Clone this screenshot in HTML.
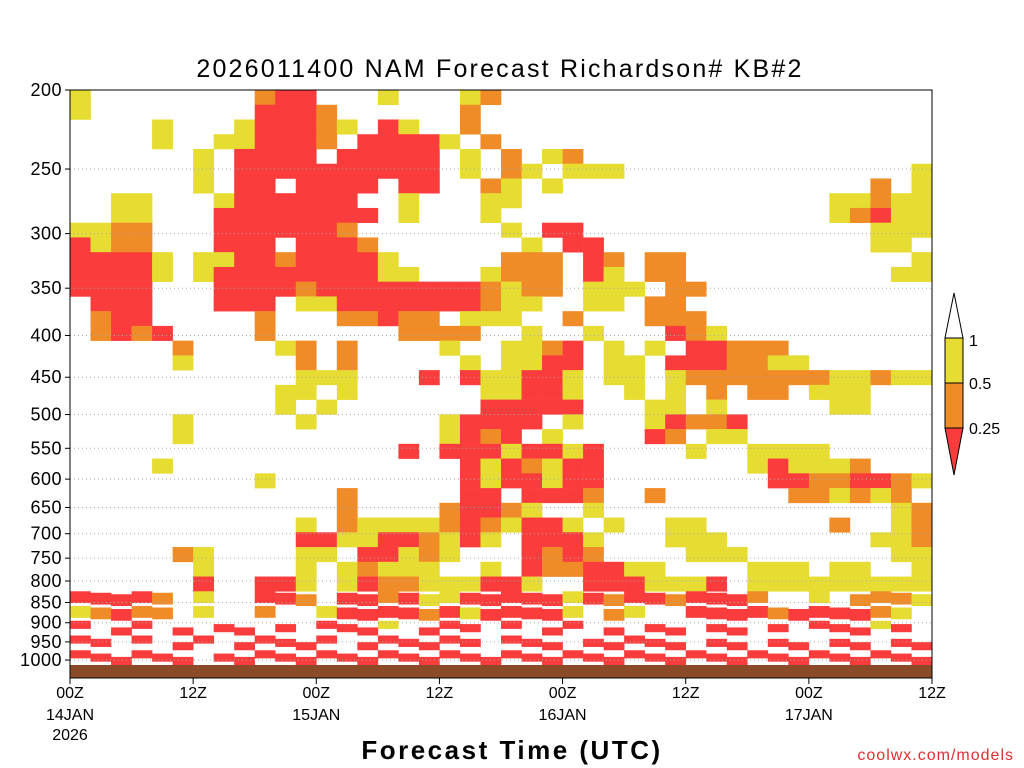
<!DOCTYPE html>
<html><head><meta charset="utf-8"><style>
html,body{margin:0;padding:0;background:#fff;}
svg{display:block;font-family:"Liberation Sans",sans-serif;}
</style></head><body>
<svg id="chart" width="1024" height="768"></svg>
<script>
// ---- data ----
const categories = ['.', 'y', 'o', 'r']; // none, >=1 (yellow), 0.5-1 (orange), 0.25-0.5 (red)
const hoursPerColumn = 2;
const yTickLabels = [200,250,300,350,400,450,500,550,600,650,700,750,800,850,900,950,1000];
const xTickHours = [0,12,24,36,48,60,72,84];
const xTickLabels = ['00Z','12Z','00Z','12Z','00Z','12Z','00Z','12Z'];
const xDateLabels = ['14JAN','','15JAN','','16JAN','','17JAN',''];
const legendLabels = ['1','0.5','0.25'];
const rows = [
"y........orr...y...yo......................",
"y........rrro......o.......................",
"....y...yrrroy.ry..o.......................",
"....y..yyrrro.rrrry.o......................",
"......y.rrrr.rrrrr.y.o.yo..................",
"......y.rrrrrrrrrr.y.oy.yyy..............yy",
"......y.rr.rrrr.rr..oy.y...............o.yo",
"..yy...yrrrrrr..y...yy...............yyoyyr",
"..yy...rrrrrrrr.y...y................yoryyy",
"yyoo...rrrrrro.......y.rr..............yyy.",
"ryoo...rrr.rrro.......y.rr.............yy..",
"rrrry.yyrrorrrry.....ooo.ro.oo...........y.",
"rrrry.yrrrrrrrryy...yooo.ry.oo..........yy.",
"rrrr...rrrrorrrrrrrroyoo.yyy.oo............",
".rrr...rrr.yyrrrrrrroyy..yy.oo.............",
".orr.....o...ooroo.yyy..o...ooo............",
".oror....o......oooo..y..y...roy...........",
".....o....yo.o....y..yyor.y.y.rrooo........",
".....y.....o.o.....y.yyrr.yy.rrrooyy.......",
"...........yyy...r.ryyrry.yy.yoooooooyyoyyy",
"..........yy.y......yyrry..y.y.o.oo.yyy....",
"..........y.y.......rrrrr...yy.y.....yy....",
".....y.....y......yrrrr.y...yroor..........",
".....y............yror.y....ro.yy..........",
"................r.rrryrryr....y..yyyy......",
"....y..............ryroyrr.......yryyyo....",
".........y.........ryrryrr........rroorroy.",
".............o.....rr.rrro..o......ooyoyo.y",
".............o....orroy..y..............yoy",
"...........y.oyyyyoroyrry.y..yy......o..yoo",
"...........rryyrroyry.rrry...yyy.......yyo.",
".....oy....yy.rryoy...roro....yyy.......yy.",
"......y....y.yoyyy..y.roorryy....yyy.yy..y.",
"......r..rry.yrooyyyrry..rrryyyr.yyyyyyyyy.",
"rrrro.y..rro.rroryyrrrrryrorrorrro..y.oooyy",
"yoroo.y..o..yrrrroryrrrry.oy..rrrrorrrroy..",
"r.rr.r.rr.r.rrry.rrr.r.rr.r.rr.rr.r.rrryr.r",
"rr.r.rr.rrrrr.rrrrrr.rrr.rrrrr.rr.rr.rr.rrr",
"rrrrrr.rrrrrrrrrrrrrrrrrrrrrrrrrrrrrrrrrrrr"
];
// ---- layout ----
const NS = 'http://www.w3.org/2000/svg';
const svg = document.getElementById('chart');
const L = 70, R = 932, T = 90, B = 678;
const pTop = 200, pBot = 1052;
const colors = {y:'#e6dc32', o:'#f08c28', r:'#fa3c3c'};
function xScale(h){ return L + h/84*(R-L); }
function yScale(p){ return T + Math.log(p/pTop)/Math.log(pBot/pTop)*(B-T); }
const groundTop = 665;
const rowH = (groundTop - T)/rows.length;
function mk(tag, attrs, parent){
  const e = document.createElementNS(NS, tag);
  for (const k in attrs) e.setAttribute(k, attrs[k]);
  (parent||svg).appendChild(e); return e;
}
const cells = mk('g', {});


rows.forEach((row, i) => {
  // near-surface rows are drawn as thinner strips (finer model levels with gaps)
  const frac = i >= rows.length - 3 ? 0.55 : (i >= rows.length - 5 ? 0.8 : 1);
  for (let k = 0; k < row.length; k++) {
    const c = row[k];
    if (c === '.' || !colors[c]) continue;
    const x0 = xScale(k*hoursPerColumn), x1 = Math.min(R, xScale((k+1)*hoursPerColumn));
    if (x0 >= R) continue;
    const h = frac === 1 ? rowH + 0.3 : rowH*frac;
    const yy = T + i*rowH + (frac === 1 ? 0 : ((k*7) % 3) * (rowH*(1-frac))/2);
    const r = mk('rect', {x:x0, y:yy, width:x1-x0+0.3, height:h, fill:colors[c]}, cells);
    
    
  }
});
const g = mk('rect', {x:L, y:groundTop, width:R-L, height:B-groundTop, fill:'#8c4b28'});


// grid lines + y labels
yTickLabels.forEach(p => {
  const y = yScale(p);
  if (p !== 200) {
    const gl = mk('line', {x1:L, x2:R, y1:y, y2:y, stroke:'#aaa', 'stroke-width':1, 'stroke-dasharray':'1,3'});
    
    
  }
  const tk = mk('line', {x1:L-5, x2:L, y1:y, y2:y, stroke:'#000'});
  
  
  const t = mk('text', {x:L-8, y:y+6, 'text-anchor':'end', 'font-size':18, fill:'#000', 'letter-spacing':0.5});
  t.textContent = p;
  
  
});
// x ticks
xTickHours.forEach((h, i) => {
  const x = xScale(h);
  const tk = mk('line', {x1:x, x2:x, y1:B, y2:B+6, stroke:'#000'});
  
  
  const t = mk('text', {x:x, y:B+20, 'text-anchor':'middle', 'font-size':16, fill:'#000'});
  t.textContent = xTickLabels[i];
  
  
  if (xDateLabels[i]) {
    const d = mk('text', {x:x, y:B+42, 'text-anchor':'middle', 'font-size':16, fill:'#000'});
    d.textContent = xDateLabels[i];
    
    
  }
});
const yr = mk('text', {x:xScale(0), y:B+62, 'text-anchor':'middle', 'font-size':16, fill:'#000'});
yr.textContent = '2026';


// border
const bd = mk('rect', {x:L, y:T, width:R-L, height:B-T, fill:'none', stroke:'#000', 'stroke-width':1});


// title
const ti = mk('text', {x:500, y:77, 'text-anchor':'middle', 'font-size':25, fill:'#000', 'letter-spacing':2.2});
ti.textContent = '2026011400 NAM Forecast Richardson# KB#2';


const xt = mk('text', {x:512, y:759, 'text-anchor':'middle', 'font-size':26, 'font-weight':'bold', fill:'#000', 'letter-spacing':2.5});
xt.textContent = 'Forecast Time (UTC)';


const cw = mk('text', {x:1014, y:760, 'text-anchor':'end', 'font-size':16, fill:'#e03030', 'letter-spacing':1});
cw.textContent = 'coolwx.com/models';


// legend
const lg = mk('g', {stroke:'#000', 'stroke-width':1});


mk('polygon', {points:'954,293 945,338 963,338', fill:'#fff'}, lg);
mk('rect', {x:945, y:338, width:18, height:45, fill:colors.y}, lg);
mk('rect', {x:945, y:383, width:18, height:45, fill:colors.o}, lg);
mk('polygon', {points:'945,428 963,428 954,475', fill:colors.r}, lg);
[340, 383, 428].forEach((y, i) => {
  const t = mk('text', {x:969, y:y+6, 'font-size':16, fill:'#000'});
  t.textContent = legendLabels[i];
  
  
});
</script>
</body></html>
